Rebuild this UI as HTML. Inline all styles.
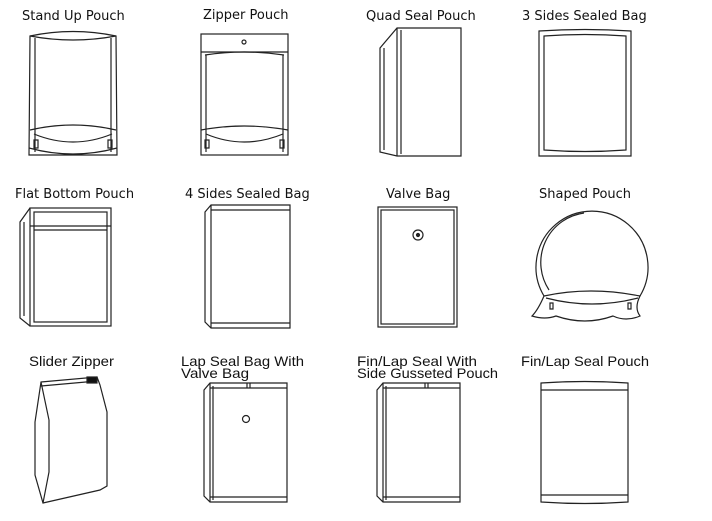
<!DOCTYPE html>
<html><head><meta charset="utf-8"><style>
html,body{margin:0;padding:0;background:#fff;}
svg{display:block}
text{font-family:"DejaVu Sans","Liberation Sans",sans-serif;font-size:13px;fill:#111}
.n{font-family:"Liberation Sans",sans-serif;font-size:14px}
</style></head><body>
<svg width="712" height="521" viewBox="0 0 712 521" xmlns="http://www.w3.org/2000/svg">
<g fill="none" stroke="#222" stroke-width="1.2">
<!-- Stand up pouch -->
<path d="M30 36 Q73 27 116 36 L117 155 L29 155 Z"/>
<path d="M30 36 Q73 44 116 36"/>
<line x1="35" y1="38" x2="35" y2="152"/><line x1="111" y1="38" x2="111" y2="152"/>
<path d="M30 130 Q73 120 116 130"/><path d="M34 134 Q73 150 112 134"/>
<path d="M29 148 Q73 160 117 148"/>
<path d="M34 140v8h4v-8zM108 140v8h4v-8z"/>
<!-- Zipper pouch -->
<rect x="201" y="34" width="87" height="121"/>
<line x1="201" y1="52" x2="288" y2="52"/>
<path d="M205 55 Q244 49 284 55"/>
<line x1="206" y1="55" x2="206" y2="152"/><line x1="283" y1="55" x2="283" y2="152"/>
<circle cx="244" cy="42" r="2"/>
<path d="M201 130 Q244 122 288 130"/><path d="M206 134 Q244 150 283 134"/>
<path d="M205 140v8h4v-8zM280 140v8h4v-8z"/>
<!-- Quad seal -->
<path d="M380 48 L397 28 L461 28 L461 156 L397 156 L380 152 Z"/>
<line x1="397" y1="28" x2="397" y2="156"/><line x1="401" y1="30" x2="401" y2="154"/>
<line x1="384" y1="48" x2="384" y2="150"/>
<!-- 3 sides -->
<path d="M539 31 Q585 28 631 31 L631 156 L539 156 Z"/>
<path d="M544 36 Q585 33 626 36 L626 150 Q585 153 544 150 Z"/>
<!-- Flat bottom -->
<rect x="30" y="208" width="81" height="118"/>
<rect x="34" y="212" width="73" height="110"/>
<line x1="30" y1="226" x2="111" y2="226"/><line x1="34" y1="230" x2="107" y2="230"/>
<path d="M30 208 L20 222 L20 318 L30 326"/><path d="M24 222 L24 316"/>
<!-- 4 sides sealed -->
<path d="M205 212 L211 205 L290 205 L290 328 L211 328 L205 322 Z"/>
<line x1="211" y1="205" x2="211" y2="328"/>
<line x1="211" y1="210" x2="290" y2="210"/><line x1="211" y1="323" x2="290" y2="323"/>
<!-- Valve bag -->
<rect x="378" y="207" width="79" height="120"/>
<rect x="381" y="210" width="73" height="114"/>
<circle cx="418" cy="235" r="5"/><circle cx="418" cy="235" r="1.5" fill="#222"/>
<!-- Shaped pouch -->
<path d="M544 296 A56 56 0 1 1 640 296"/>
<path d="M549 290 A50 50 0 0 1 584 213"/>
<path d="M544 296 Q538 310 532 316 Q545 320 556 316 Q585 326 613 316 Q626 322 640 316 Q634 308 640 296 Q590 286 544 296Z"/>
<path d="M546 298 Q592 310 638 298"/>
<path d="M550 303v6h3v-6zM628 303v6h3v-6z"/>
<!-- Slider zipper -->
<path d="M41 382 L97 377 L100 385 L107 412 L107 486 L100 490 L43 503 L35 475 L35 422 Z"/>
<path d="M41 382 L49 420 L49 472 L43 503"/>
<line x1="41" y1="386" x2="97" y2="381"/>
<rect x="87" y="377" width="10" height="6" fill="#111"/>
<!-- Lap seal with valve -->
<path d="M204 390 L210 383 L287 383 L287 502 L210 502 L204 496 Z"/>
<line x1="210" y1="383" x2="210" y2="502"/><line x1="213" y1="386" x2="213" y2="500"/>
<line x1="210" y1="388" x2="287" y2="388"/><line x1="210" y1="497" x2="287" y2="497"/>
<line x1="247" y1="383" x2="247" y2="388"/><line x1="250" y1="383" x2="250" y2="388"/>
<circle cx="246" cy="419" r="3.5"/>
<!-- Fin/lap gusseted -->
<path d="M377 390 L383 383 L460 383 L460 502 L383 502 L377 496 Z"/>
<line x1="383" y1="383" x2="383" y2="502"/><line x1="386" y1="386" x2="386" y2="500"/>
<line x1="383" y1="388" x2="460" y2="388"/><line x1="383" y1="497" x2="460" y2="497"/>
<line x1="425" y1="383" x2="425" y2="388"/><line x1="428" y1="383" x2="428" y2="388"/>
<!-- Fin/lap pouch -->
<path d="M541 383 Q585 380 628 383 L628 502 Q585 505 541 502 Z"/>
<line x1="541" y1="390" x2="628" y2="390"/><line x1="541" y1="495" x2="628" y2="495"/>
</g>
<text x="22" y="20">Stand Up Pouch</text>
<text x="203" y="19">Zipper Pouch</text>
<text x="366" y="20">Quad Seal Pouch</text>
<text x="522" y="20">3 Sides Sealed Bag</text>
<text x="15" y="198">Flat Bottom Pouch</text>
<text x="185" y="198">4 Sides Sealed Bag</text>
<text x="386" y="198">Valve Bag</text>
<text x="539" y="198">Shaped Pouch</text>
<text class="n" x="29" y="366" textLength="85" lengthAdjust="spacingAndGlyphs">Slider Zipper</text>
<text class="n" x="181" y="366" textLength="123" lengthAdjust="spacingAndGlyphs">Lap Seal Bag With</text>
<text class="n" x="181" y="378" textLength="68" lengthAdjust="spacingAndGlyphs">Valve Bag</text>
<text class="n" x="357" y="366" textLength="120" lengthAdjust="spacingAndGlyphs">Fin/Lap Seal With</text>
<text class="n" x="357" y="378" textLength="141" lengthAdjust="spacingAndGlyphs">Side Gusseted Pouch</text>
<text class="n" x="521" y="366" textLength="128" lengthAdjust="spacingAndGlyphs">Fin/Lap Seal Pouch</text>
</svg>
</body></html>
